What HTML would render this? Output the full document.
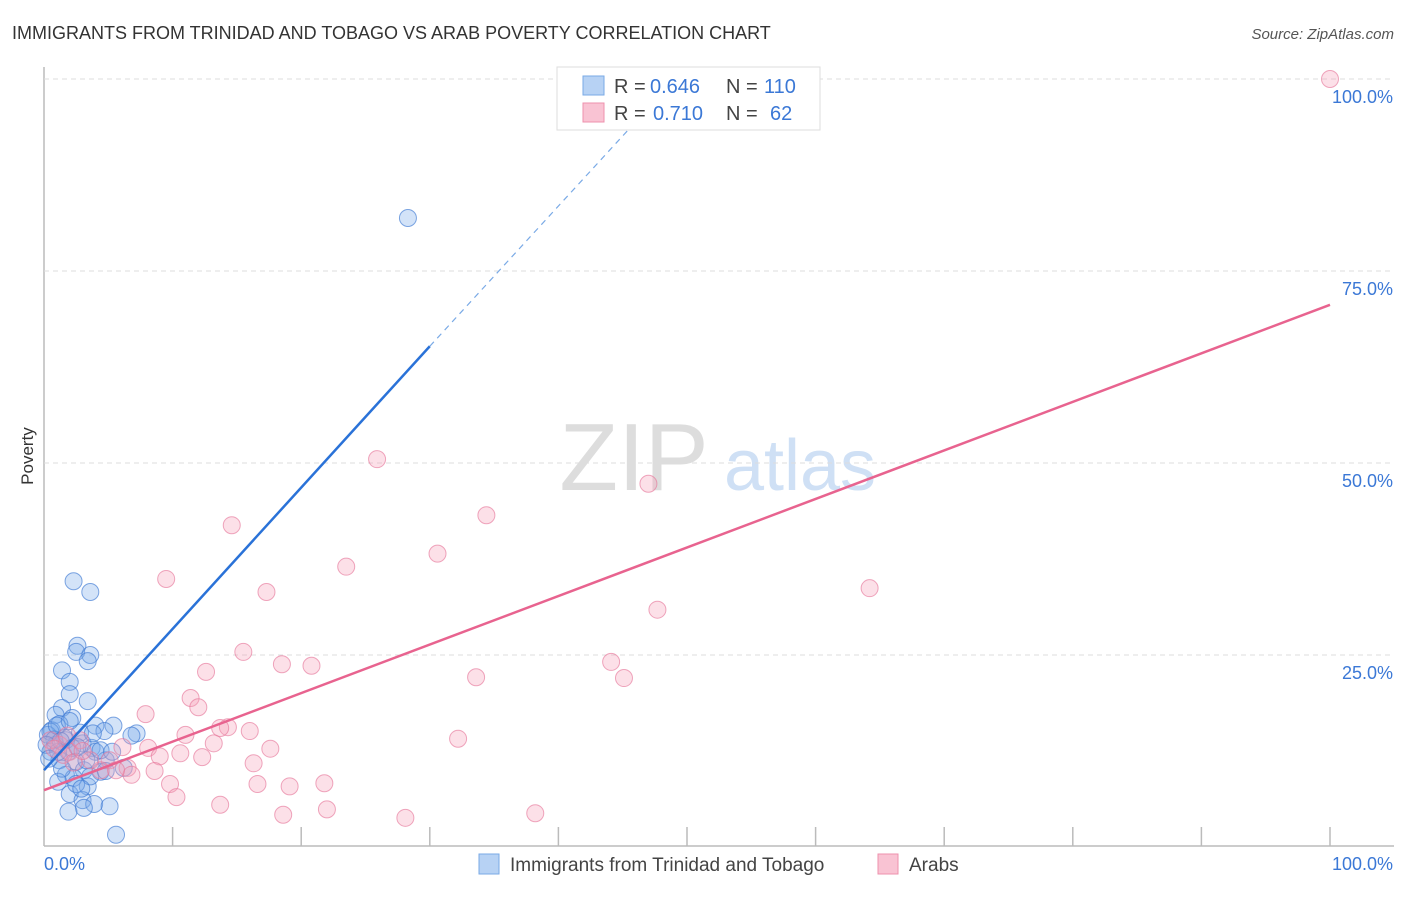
<!DOCTYPE html>
<html><head><meta charset="utf-8"><style>
body{margin:0;background:#fff;font-family:"Liberation Sans",sans-serif}
svg text{font-family:"Liberation Sans",sans-serif}
</style></head><body>
<svg id="chart" width="1406" height="892">
<text x="12" y="39" font-size="18" fill="#333">IMMIGRANTS FROM TRINIDAD AND TOBAGO VS ARAB POVERTY CORRELATION CHART</text>
<text x="1394" y="39" font-size="15" fill="#555" font-style="italic" text-anchor="end">Source: ZipAtlas.com</text>
<text x="33" y="456" font-size="17" fill="#333" transform="rotate(-90 33 456)" text-anchor="middle">Poverty</text>
<g><text x="634" y="490" font-size="96" fill="#ddd" font-family="Liberation Serif,serif" text-anchor="middle">ZIP</text><text x="800" y="490" font-size="72" fill="#cfe0f5" text-anchor="middle">atlas</text></g>
<g id="grid"></g><g id="marks"></g>
<g>
<rect x="557" y="67" width="263" height="63" fill="#fff" stroke="#ddd"/>
<rect x="583" y="76" width="21" height="19" fill="#b7d2f4" stroke="#7aaae6"/>
<rect x="583" y="103" width="21" height="19" fill="#f9c3d3" stroke="#ee90ad"/>
<text x="614" y="93" font-size="20" fill="#444">R =</text>
<text x="650" y="93" font-size="20" fill="#3b78d6">0.646</text>
<text x="726" y="93" font-size="20" fill="#444">N =</text>
<text x="764" y="93" font-size="20" fill="#3b78d6">110</text>
<text x="614" y="120" font-size="20" fill="#444">R =</text>
<text x="653" y="120" font-size="20" fill="#3b78d6">0.710</text>
<text x="726" y="120" font-size="20" fill="#444">N =</text>
<text x="770" y="120" font-size="20" fill="#3b78d6">62</text>
</g>
<g>
<rect x="479" y="854" width="20" height="20" fill="#b7d2f4" stroke="#7aaae6"/>
<text x="510" y="871" font-size="19" fill="#444">Immigrants from Trinidad and Tobago</text>
<rect x="878" y="854" width="20" height="20" fill="#f9c3d3" stroke="#ee90ad"/>
<text x="909" y="871" font-size="19" fill="#444">Arabs</text>
</g>
</svg>
<script>
const xTicks=[0,10,20,30,40,50,60,70,80,90,100];
const yTicks=[25,50,75,100];
const yTickLabels=["25.0%","50.0%","75.0%","100.0%"];
const blueX=[2.3,3.6,2.6,2.5,3.6,3.4,1.4,2.0,2.0,3.4,1.4,2.2,0.9,4.0,5.4,7.2,4.7,1.7,0.6,1.2,0.3,0.9,3.0,3.7,1.9,0.5,1.2,2.5,4.0,4.8,6.8,3.1,1.7,4.4,1.1,2.3,3.4,2.0,3.0,3.9,5.1,3.1,1.9,5.6,28.3,0.5,0.8,1.6,2.8,0.2,1.1,2.2,3.3,4.4,5.3,1.4,2.5,3.6,1.0,2.0,0.4,1.3,2.6,3.8,6.2,4.8,2.9];
const blueY=[34.6,33.2,26.2,25.4,25.0,24.2,23.0,21.5,19.9,19.0,18.1,16.8,17.2,15.8,15.8,14.8,15.1,13.9,15.2,16.0,14.6,13.3,13.5,12.9,12.4,12.4,11.3,11.1,12.4,11.3,14.5,10.0,9.4,9.8,8.5,9.0,7.9,6.9,6.1,5.6,5.3,5.1,4.6,1.6,81.9,15.0,14.0,14.2,14.9,13.3,12.4,12.9,11.3,12.6,12.4,10.2,8.2,9.2,15.8,16.4,11.5,13.8,13.0,14.8,10.3,9.9,7.6];
const pinkX=[100,25.9,47.0,34.4,14.6,30.6,23.5,9.5,17.3,47.7,64.2,15.5,18.5,20.8,44.1,33.6,45.1,12.6,11.4,12.0,7.9,11.0,14.3,13.7,16.0,17.6,13.2,6.1,8.1,32.2,9.0,10.6,12.3,16.3,5.1,6.5,6.8,8.6,9.8,10.3,13.7,16.6,19.1,21.8,18.6,22.0,28.1,38.2,4.4,3.6,1.2,2.0,0.5,2.8,5.6,1.5,2.3,0.8,3.0,1.8];
const pinkY=[100,50.5,47.3,43.2,41.9,38.2,36.5,34.9,33.2,30.9,33.7,25.4,23.8,23.6,24.1,22.1,22.0,22.8,19.4,18.2,17.3,14.6,15.6,15.5,15.1,12.8,13.5,13.0,12.9,14.1,11.8,12.2,11.7,10.9,11.3,10.3,9.4,9.9,8.2,6.5,5.5,8.2,7.9,8.3,4.2,4.9,3.8,4.4,10.0,11.3,13.3,12.4,13.9,13.9,10.0,12.0,11.0,12.8,12.5,14.5];
const blueLine=[0,10,30,65.2,45.5,93.5];
const pinkLine=[0,7.4,100,70.6];
const X=v=>44+v*12.86, Y=v=>847-v*7.68;
const NS="http://www.w3.org/2000/svg";
const grid=document.getElementById('grid'), marks=document.getElementById('marks');
function mk(tag,attrs,parent){const e=document.createElementNS(NS,tag);for(const k in attrs)e.setAttribute(k,attrs[k]);parent.appendChild(e);return e;}
let ax=mk('line',{x1:44,y1:67,x2:44,y2:846,stroke:'#bbb','stroke-width':1.5},grid);


let bx=mk('line',{x1:44,y1:846,x2:1394,y2:846,stroke:'#bbb','stroke-width':1.5},grid);


yTicks.forEach((t,i)=>{
 let g=mk('line',{x1:44,y1:Y(t),x2:1394,y2:Y(t),stroke:'#ddd','stroke-dasharray':'5,4'},grid);
 
 
 let tx=mk('text',{x:1393,y:Y(t)+24,'font-size':18,fill:'#3b78d6','text-anchor':'end'},grid);
 tx.textContent=yTickLabels[i];
 
 
});
xTicks.forEach(t=>{if(t===0)return;
 let l=mk('line',{x1:X(t),y1:827,x2:X(t),y2:846,stroke:'#bbb','stroke-width':1.5},grid);
 
 
});
let xl0=mk('text',{x:44,y:870,'font-size':18,fill:'#3b78d6'},grid);xl0.textContent='0.0%';


let xl1=mk('text',{x:1393,y:870,'font-size':18,fill:'#3b78d6','text-anchor':'end'},grid);xl1.textContent='100.0%';


blueX.forEach((v,i)=>{let c=mk('circle',{cx:X(v),cy:Y(blueY[i]),r:8.5,fill:'rgba(120,170,235,0.33)',stroke:'rgba(60,120,210,0.65)','stroke-width':1},marks);
 
 });
pinkX.forEach((v,i)=>{let c=mk('circle',{cx:X(v),cy:Y(pinkY[i]),r:8.5,fill:'rgba(245,160,185,0.33)',stroke:'rgba(230,120,155,0.65)','stroke-width':1},marks);
 
 });
let bl=mk('line',{x1:X(blueLine[0]),y1:Y(blueLine[1]),x2:X(blueLine[2]),y2:Y(blueLine[3]),stroke:'#2a72d8','stroke-width':2.5},marks);


let bd=mk('line',{x1:X(blueLine[2]),y1:Y(blueLine[3]),x2:X(blueLine[4]),y2:Y(blueLine[5]),stroke:'#7aaae6','stroke-width':1.2,'stroke-dasharray':'6,5'},marks);


let pl=mk('line',{x1:X(pinkLine[0]),y1:Y(pinkLine[1]),x2:X(pinkLine[2]),y2:Y(pinkLine[3]),stroke:'#e8638f','stroke-width':2.5},marks);


</script>
</body></html>
